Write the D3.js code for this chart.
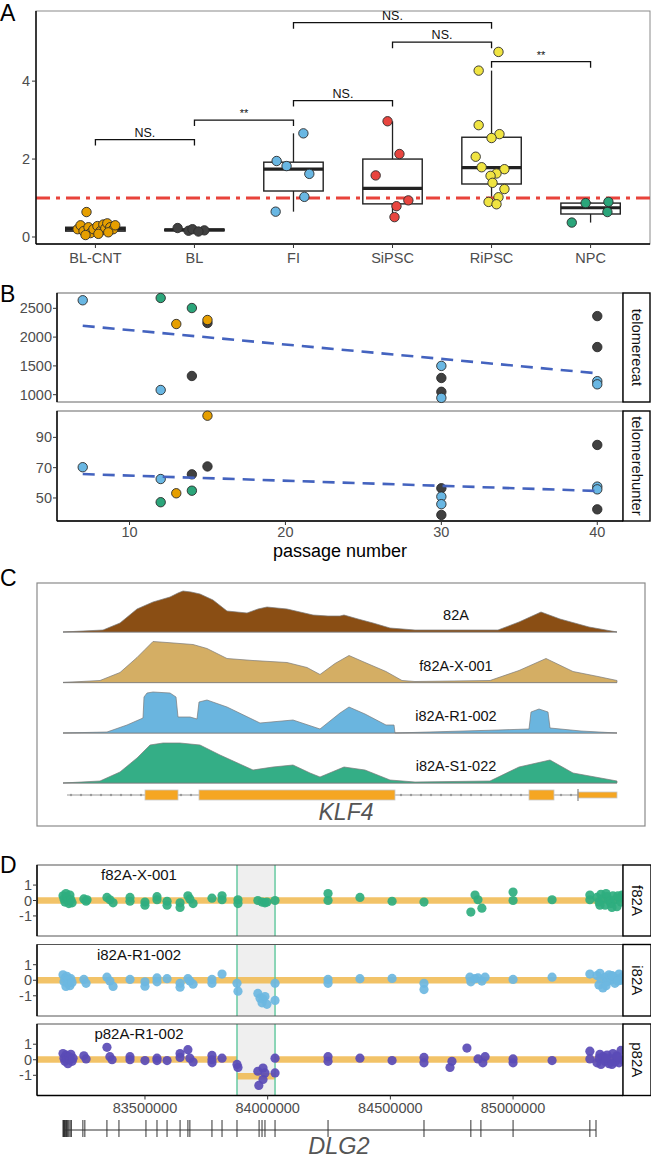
<!DOCTYPE html>
<html><head><meta charset="utf-8">
<script src="https://cdn.jsdelivr.net/npm/d3@7"></script>
<style>body{margin:0;background:#fff}svg{display:block}text{font-family:"Liberation Sans",Arial,sans-serif}</style>
</head><body><svg id="c" width="651" height="1159"></svg>
<script>
// ================= DATA =================
// Panel A
const groupsA = ["BL-CNT","BL","FI","SiPSC","RiPSC","NPC"];
const q1A  = [0.15,0.16,1.18,0.85,1.36,0.59];
const medA = [0.20,0.18,1.74,1.25,1.78,0.75];
const q3A  = [0.25,0.20,1.92,2.00,2.56,0.87];
const loA  = [0.08,0.14,0.65,0.51,0.84,0.37];
const hiA  = [0.35,0.22,2.66,2.97,4.27,0.90];
const ptsBLCNT = [[-0.09,0.64],[-0.18,0.2],[-0.15,0.3],[-0.12,0.15],[-0.07,0.25],[-0.05,0.1],[-0.02,0.2],[0.02,0.28],[0.05,0.15],[0.08,0.32],[0.1,0.22],[0.12,0.35],[0.15,0.25],[0.18,0.2],[0.2,0.3],[0.13,0.12],[0.03,0.08],[-0.1,0.05]];
const ptsBL = [[-0.17,0.23],[-0.06,0.16],[-0.02,0.2],[0.1,0.17],[0.04,0.14]];
const ptsFI = [[-0.17,1.95],[-0.07,1.82],[0.16,1.62],[0.11,1.03],[-0.18,0.65],[0.1,2.66]];
const ptsSiPSC = [[-0.05,2.97],[0.07,2.13],[-0.17,1.58],[0.16,0.94],[0.04,0.79],[0.02,0.51]];
const ptsRiPSC = [[0.07,4.75],[-0.13,4.27],[-0.13,2.87],[0.08,2.64],[0,2.54],[-0.16,2.06],[-0.1,1.79],[0.13,1.74],[0.05,1.63],[-0.01,1.57],[0.01,1.39],[0.13,1.23],[0.07,1.02],[-0.03,0.9],[0.05,0.84]];
const ptsNPC = [[-0.05,0.87],[0.18,0.9],[0.17,0.64],[-0.19,0.37]];
const bracketFrom  = ["BL-CNT","BL","FI","SiPSC","FI","RiPSC"];
const bracketTo    = ["BL","FI","SiPSC","RiPSC","RiPSC","NPC"];
const bracketLevel = [2.5,3.0,3.5,5.0,5.5,4.5];
const bracketLabel = ["NS.","**","NS.","NS.","NS.","**"];
const refLineA = 1;
const yTicksA = [0,2,4];

// Panel B
const passage = [7,12,12,13,14,14,15,15,30,30,30,30,40,40,40,40];
const sampleB = ["A","B","A","C","B","D","D","C","D","D","A","A","D","D","A","A"];
const telomerecat = [2640,2680,1082,2227,2505,1325,2245,2297,1290,1050,1500,945,2365,1827,1235,1180];
const telomerehunter = [70.3,47.2,62.5,53.1,54.8,65.6,70.8,104.3,56.4,38.8,50.9,45.9,85,42.5,57.5,55.7];
const facetsB = ["telomerecat","telomerehunter"];
const yTicksB1 = [1000,1500,2000,2500];
const yTicksB2 = [50,70,90];
const xTicksB = [10,20,30,40];

// Panel C (coverage: [position, coverage])
const tracksC = ["82A","f82A-X-001","i82A-R1-002","i82A-S1-022"];
const cov82A = [[0,0],[400,2],[570,9],[740,23],[900,30],[1070,35],[1150,39],[1200,41],[1280,40],[1370,38],[1500,32],[1640,21],[1740,20],[1840,19],[1950,23],[2040,25],[2140,24],[2240,23],[2370,20],[2500,17],[2650,16],[2770,16],[2810,17],[2950,13],[3100,9],[3270,4],[3520,2],[4350,2],[4560,10],[4780,20],[4970,13],[5260,5],[5540,0]];
const covF82A = [[0,0],[370,2],[570,10],[740,25],[820,33],[900,41],[1040,40],[1300,38],[1440,34],[1640,24],[1900,22],[2240,20],[2440,15],[2570,8],[2720,19],[2860,27],[3020,20],[3230,11],[3390,2],[3520,1],[4270,2],[4560,12],[4830,24],[5100,11],[5350,6],[5540,2]];
const covI82AR1 = [[0,0],[440,1],[640,8],[800,15],[810,36],[840,40],[900,41],[1070,40],[1130,36],[1150,16],[1270,16],[1340,14],[1360,31],[1440,33],[1640,26],[1970,10],[2300,13],[2570,4],[2770,20],[2860,26],[3020,19],[3230,8],[3310,8],[3320,0],[4350,3],[4660,4],[4680,21],[4760,24],[4850,21],[4870,5],[5180,2],[5540,0]];
const covI82AS1 = [[0,0],[370,2],[570,11],[740,25],[870,38],[1000,40],[1170,40],[1370,38],[1570,28],[1900,13],[2100,16],[2300,18],[2470,10],[2570,6],[2810,16],[3020,13],[3270,3],[3520,1],[4270,2],[4560,16],[4870,23],[5100,10],[5540,2]];
const klf4ExonStart = [820,1360,4660,5150];
const klf4ExonEnd   = [1150,3320,4910,5540];
const klf4ExonUTR   = [false,false,false,true];
const klf4Span = [40,5540];

// Panel D ([genomic position, log ratio])
const samplesD = ["f82A","i82A","p82A"];
const labelsD = ["f82A-X-001","i82A-R1-002","p82A-R1-002"];
const ptsF82A = [[83166000,0.3],[83170000,0.1],[83174000,-0.1],[83178000,0.45],[83182000,0.2],[83186000,0],[83190000,-0.2],[83194000,0.35],[83198000,0.05],[83203000,-0.15],[83251000,0.1],[83260000,-0.05],[83264000,0.05],[83345000,0.2],[83357000,0.05],[83370000,-0.15],[83439000,0.2],[83439000,-0.05],[83500000,-0.1],[83500000,-0.3],[83549000,0.25],[83549000,0.05],[83590000,-0.05],[83590000,-0.3],[83643000,-0.15],[83643000,-0.45],[83675000,0.3],[83683000,0.1],[83696000,-0.2],[83773000,0.15],[83814000,0.3],[83814000,0.05],[83879000,0.05],[83879000,-0.2],[83960000,0],[83977000,-0.1],[83989000,-0.15],[83997000,-0.1],[84030000,0],[84246000,0.45],[84246000,0],[84376000,0.2],[84507000,-0.05],[84637000,-0.1],[84828000,-0.75],[84845000,0.35],[84857000,0.05],[84873000,-0.5],[85000000,0.55],[85000000,0],[85159000,0.05],[85313000,0.35],[85313000,0.05],[85342000,0.2],[85350000,-0.1],[85358000,0.4],[85366000,0.1],[85375000,-0.3],[85383000,0.25],[85391000,0],[85399000,-0.2],[85407000,0.3],[85415000,0.05],[85423000,-0.4],[85432000,0.15],[85440000,-0.1],[85444000,0.35],[85354000,-0.3],[85379000,0.45],[85403000,-0.45],[85427000,0.3]];
const ptsI82A = [[83166000,0.35],[83170000,-0.1],[83174000,0.15],[83178000,-0.4],[83182000,0.25],[83186000,-0.2],[83190000,0.05],[83194000,-0.35],[83198000,0.1],[83203000,-0.15],[83251000,0.05],[83260000,-0.2],[83345000,0.2],[83357000,-0.05],[83370000,-0.4],[83439000,0.05],[83500000,-0.1],[83500000,-0.38],[83549000,0.15],[83549000,-0.1],[83590000,0.1],[83643000,-0.2],[83643000,-0.45],[83675000,0.1],[83683000,-0.05],[83696000,-0.25],[83773000,0.05],[83773000,-0.2],[83814000,0.4],[83875000,-0.2],[83879000,-0.7],[83960000,-0.85],[83969000,-1.15],[83977000,-1.45],[83981000,-1.2],[83989000,-1.05],[83997000,-1.55],[84030000,-0.2],[84030000,-1.3],[84246000,0.05],[84246000,-0.2],[84376000,0.1],[84507000,0.12],[84637000,-0.2],[84637000,-0.6],[84824000,0.2],[84828000,-0.1],[84845000,0.1],[84857000,0.15],[84873000,-0.05],[84886000,0.2],[85000000,0.05],[85159000,0.2],[85313000,0.4],[85342000,0.3],[85350000,-0.3],[85358000,0.1],[85366000,-0.5],[85375000,0.2],[85383000,-0.1],[85391000,0.35],[85399000,0],[85407000,0.25],[85415000,-0.2],[85423000,0.1],[85432000,0.4],[85440000,0],[85444000,0.2],[85354000,0.45],[85379000,-0.35],[85403000,0.3],[85427000,-0.05]];
const ptsP82A = [[83166000,0.4],[83170000,0.1],[83174000,-0.1],[83178000,0.3],[83182000,0.05],[83186000,-0.25],[83190000,0.2],[83194000,0],[83198000,0.35],[83203000,-0.1],[83207000,0.1],[83251000,0.25],[83260000,0.05],[83345000,0.8],[83357000,0.2],[83366000,0],[83439000,0.2],[83439000,0],[83500000,-0.05],[83549000,0.1],[83549000,-0.05],[83590000,-0.05],[83643000,0.4],[83643000,0.15],[83675000,0.65],[83683000,0.1],[83696000,-0.15],[83773000,0.28],[83773000,0],[83773000,-0.2],[83814000,0.1],[83875000,-0.3],[83879000,-0.5],[83960000,-0.74],[83981000,-0.53],[83989000,-0.85],[83981000,-1.27],[83964000,-1.65],[84030000,0.1],[84030000,-0.85],[84246000,0.2],[84246000,-0.1],[84376000,0.1],[84507000,-0.05],[84637000,0.15],[84637000,-0.2],[84743000,-0.5],[84751000,-0.1],[84812000,0.75],[84877000,-0.2],[84886000,0.2],[84857000,0.05],[85000000,0.05],[85000000,-0.2],[85159000,-0.05],[85313000,0.55],[85313000,0.05],[85342000,-0.2],[85350000,0.1],[85358000,-0.3],[85366000,0.2],[85375000,-0.1],[85383000,0.3],[85391000,-0.25],[85399000,0.05],[85407000,0.4],[85415000,-0.15],[85423000,0.25],[85432000,-0.2],[85440000,0.6],[85444000,0],[85354000,0.35],[85379000,0.1],[85403000,-0.3],[85427000,0.15]];
const segSample = ["f82A","i82A","p82A","p82A","p82A"];
const segStart  = [83060000,83060000,83060000,83875000,84030000];
const segEnd    = [85448000,85448000,83875000,84030000,85448000];
const segMean   = [0,0,0.02,-1.06,0.02];
const regionD = [83875000,84030000];
const xDomainD = [83060000,85448000];
const yTicksD = [-1,0,1];
const xTicksD = [83500000,84000000,84500000,85000000];
const dlg2Exons = [83166000,83168000,83170000,83172000,83174000,83177000,83180000,83183000,83186000,83190000,83195000,83200000,83247000,83255000,83345000,83394000,83504000,83549000,83590000,83643000,83675000,83683000,83773000,83814000,83875000,83965000,83977000,83989000,84030000,84246000,84637000,84828000,84869000,85000000,85313000,85338000];

// ================= DRAW =================
const svg = d3.select("#c");
const TG = "#4d4d4d";
const letter = (t,y)=>svg.append("text").attr("x",0).attr("y",y).attr("font-size",23).attr("fill","#000").text(t);

// ---------- Panel A ----------
{
  const L=36,R=650,T=11,Bt=244;
  const x = d3.scalePoint().domain(groupsA).range([L,R]).padding(0.6);
  const y = d3.scaleLinear().domain([-0.18,5.8]).range([Bt,T]);
  const bw = x.step()*0.6;
  const colA = {"BL-CNT":"#E69F00","BL":"#404040","FI":"#69B7E3","SiPSC":"#E8453F","RiPSC":"#F0E442","NPC":"#2BA57A"};
  const g = svg.append("g");
  g.append("rect").attr("x",L).attr("y",T).attr("width",R-L).attr("height",Bt-T).attr("fill","none").attr("stroke","#8a8a8a").attr("stroke-width",1);
  groupsA.forEach((k,i)=>{
    const cx = x(k);
    g.append("line").attr("x1",cx).attr("x2",cx).attr("y1",y(hiA[i])).attr("y2",y(q3A[i])).attr("stroke","#222").attr("stroke-width",1.3);
    g.append("line").attr("x1",cx).attr("x2",cx).attr("y1",y(q1A[i])).attr("y2",y(loA[i])).attr("stroke","#222").attr("stroke-width",1.3);
    g.append("rect").attr("x",cx-bw/2).attr("width",bw).attr("y",y(q3A[i])).attr("height",y(q1A[i])-y(q3A[i])).attr("fill","#fff").attr("stroke","#222").attr("stroke-width",1.4);
    g.append("line").attr("x1",cx-bw/2).attr("x2",cx+bw/2).attr("y1",y(medA[i])).attr("y2",y(medA[i])).attr("stroke","#222").attr("stroke-width",3.2);
  });
  g.append("line").attr("x1",L).attr("x2",R).attr("y1",y(refLineA)).attr("y2",y(refLineA)).attr("stroke","#E8433B").attr("stroke-width",3).attr("stroke-dasharray","14,6,4,6");
  const ptsA = [ptsBLCNT,ptsBL,ptsFI,ptsSiPSC,ptsRiPSC,ptsNPC];
  groupsA.forEach((k,i)=>{
    g.selectAll(null).data(ptsA[i]).join("circle")
      .attr("cx",d=>x(k)+d[0]*x.step()).attr("cy",d=>y(d[1])).attr("r",4.7)
      .attr("fill",colA[k]).attr("stroke","#2b2b2b").attr("stroke-width",0.9);
  });
  bracketFrom.forEach((f,i)=>{
    const x1=x(f), x2=x(bracketTo[i]), yy=y(bracketLevel[i]);
    g.append("path").attr("d",`M${x1},${yy+6}V${yy}H${x2}V${yy+6}`).attr("fill","none").attr("stroke","#111").attr("stroke-width",1.3);
    g.append("text").attr("x",(x1+x2)/2).attr("y",yy-3).attr("text-anchor","middle").attr("font-size",bracketLabel[i]==="**"?11:12.5).attr("fill","#111").text(bracketLabel[i]);
  });
  g.append("line").attr("x1",L).attr("x2",L).attr("y1",T).attr("y2",Bt).attr("stroke","#000").attr("stroke-width",1.4);
  g.append("line").attr("x1",L).attr("x2",R).attr("y1",Bt).attr("y2",Bt).attr("stroke","#000").attr("stroke-width",1.4);
  yTicksA.forEach(t=>{
    g.append("line").attr("x1",L-4).attr("x2",L).attr("y1",y(t)).attr("y2",y(t)).attr("stroke","#333");
    g.append("text").attr("x",L-6).attr("y",y(t)+5).attr("text-anchor","end").attr("font-size",14.5).attr("fill",TG).text(t);
  });
  groupsA.forEach(k=>{
    g.append("line").attr("x1",x(k)).attr("x2",x(k)).attr("y1",Bt).attr("y2",Bt+4).attr("stroke","#333");
    g.append("text").attr("x",x(k)).attr("y",Bt+19).attr("text-anchor","middle").attr("font-size",14.5).attr("fill",TG).text(k);
  });
  letter("A",21);
}

// ---------- Panel B ----------
{
  const L=57,R=623,SW=27;
  const panels=[[293,402],[411,521]];
  const x = d3.scaleLinear().domain([5.35,41.65]).range([L,R]);
  const ys = [d3.scaleLinear().domain([873,2766]).range([panels[0][1],panels[0][0]]),
              d3.scaleLinear().domain([34.8,107.4]).range([panels[1][1],panels[1][0]])];
  const vals=[telomerecat,telomerehunter];
  const ticks=[yTicksB1,yTicksB2];
  const colB={A:"#69B7E3",B:"#2BA57A",C:"#E69F00",D:"#404040"};
  panels.forEach((p,fi)=>{
    const g=svg.append("g");
    const y=ys[fi];
    g.append("rect").attr("x",L).attr("y",p[0]).attr("width",R-L).attr("height",p[1]-p[0]).attr("fill","none").attr("stroke","#666").attr("stroke-width",1);
    g.append("line").attr("x1",L).attr("x2",L).attr("y1",p[0]).attr("y2",p[1]).attr("stroke","#000").attr("stroke-width",1.4);
    if(fi===1) g.append("line").attr("x1",L).attr("x2",R).attr("y1",p[1]).attr("y2",p[1]).attr("stroke","#000").attr("stroke-width",1.4);
    const xs=passage, yv=vals[fi];
    const mx=d3.mean(xs), my=d3.mean(yv);
    const b=d3.sum(xs,(v,i)=>(v-mx)*(yv[i]-my))/d3.sum(xs,v=>(v-mx)**2);
    const a=my-b*mx;
    const x0=d3.min(xs), x1=d3.max(xs);
    g.selectAll(null).data(d3.range(xs.length)).join("circle")
      .attr("cx",i=>x(xs[i])).attr("cy",i=>y(yv[i])).attr("r",4.7)
      .attr("fill",i=>colB[sampleB[i]]).attr("stroke","#2b2b2b").attr("stroke-width",0.9);
    g.append("line").attr("x1",x(x0)).attr("x2",x(x1)).attr("y1",y(a+b*x0)).attr("y2",y(a+b*x1))
      .attr("stroke","#4463BF").attr("stroke-width",2.6).attr("stroke-dasharray","12,8");
    ticks[fi].forEach(t=>{
      g.append("line").attr("x1",L-4).attr("x2",L).attr("y1",y(t)).attr("y2",y(t)).attr("stroke","#333");
      g.append("text").attr("x",L-5).attr("y",y(t)+5).attr("text-anchor","end").attr("font-size",14.5).attr("fill",TG).text(t);
    });
    g.append("rect").attr("x",R).attr("y",p[0]).attr("width",SW).attr("height",p[1]-p[0]).attr("fill","#fff").attr("stroke","#000").attr("stroke-width",1.4);
    g.append("text").attr("transform",`translate(${R+SW/2-5},${(p[0]+p[1])/2}) rotate(90)`).attr("text-anchor","middle").attr("font-size",14.8).attr("fill","#111").text(facetsB[fi]);
  });
  xTicksB.forEach(t=>{
    svg.append("line").attr("x1",x(t)).attr("x2",x(t)).attr("y1",521).attr("y2",525).attr("stroke","#333");
    svg.append("text").attr("x",x(t)).attr("y",537).attr("text-anchor","middle").attr("font-size",14.5).attr("fill",TG).text(t);
  });
  svg.append("text").attr("x",340).attr("y",557).attr("text-anchor","middle").attr("font-size",18).attr("fill","#000").text("passage number");
  letter("B",302);
}

// ---------- Panel C ----------
{
  const g=svg.append("g");
  g.append("rect").attr("x",37).attr("y",583).attr("width",608).attr("height",243).attr("fill","#fff").attr("stroke","#8a8a8a").attr("stroke-width",1.2);
  const x=d3.scaleLinear().domain([0,5540]).range([63,617]);
  const h=d3.scaleLinear().domain([0,41]).range([0,41]);
  const baselines=[632,682.5,733,783];
  const covs=[cov82A,covF82A,covI82AR1,covI82AS1];
  const colsC=["#8A4E14","#D4AE64","#6AB5DF","#34AE86"];
  tracksC.forEach((name,i)=>{
    const b=baselines[i];
    const area=d3.area().x(d=>x(d[0])).y0(b).y1(d=>b-h(d[1]));
    g.append("line").attr("x1",x(0)).attr("x2",x(5540)).attr("y1",b).attr("y2",b).attr("stroke","#b5b5b5").attr("stroke-width",1.5);
    g.append("path").attr("d",area(covs[i])).attr("fill",colsC[i]).attr("stroke","#7a7a7a").attr("stroke-width",0.7);
    g.append("text").attr("x",456).attr("y",b-12).attr("text-anchor","middle").attr("font-size",14.5).attr("fill","#111").text(name);
  });
  const gy=795;
  g.append("line").attr("x1",x(klf4Span[0])).attr("x2",x(klf4Span[1])).attr("y1",gy).attr("y2",gy).attr("stroke","#9a9a9a").attr("stroke-width",1);
  d3.range(x(klf4Span[0])+4,x(klf4Span[1]),10).forEach(px=>{
    g.append("circle").attr("cx",px).attr("cy",gy).attr("r",1.2).attr("fill","#9a9a9a");
  });
  klf4ExonStart.forEach((s,i)=>{
    const hh = klf4ExonUTR[i]?6:10;
    g.append("rect").attr("x",x(s)).attr("width",x(klf4ExonEnd[i])-x(s)).attr("y",gy-hh/2).attr("height",hh)
      .attr("fill","#F5A623").attr("stroke","#c8c8c8").attr("stroke-width",0.8);
    if(klf4ExonUTR[i]) g.append("line").attr("x1",x(s)).attr("x2",x(s)).attr("y1",gy-6).attr("y2",gy+6).attr("stroke","#888").attr("stroke-width",1.2);
  });
  g.append("text").attr("x",346).attr("y",820).attr("text-anchor","middle").attr("font-size",23).attr("font-style","italic").attr("fill","#555").text("KLF4");
  letter("C",586);
}

// ---------- Panel D ----------
{
  const L=37,R=623,SW=28;
  const facets=[[865,936],[944.5,1016],[1024,1095.5]];
  const x=d3.scaleLinear().domain(xDomainD).range([L,R]);
  const pts=[ptsF82A,ptsI82A,ptsP82A];
  const colD=["#2FAE7F","#6CB7E1","#5A4BB6"];
  const defs=svg.append("defs");
  samplesD.forEach((s,fi)=>{
    const p=facets[fi];
    const y=d3.scaleLinear().domain([-2.3,2.3]).range([p[1],p[0]]);
    defs.append("clipPath").attr("id","clipD"+fi).append("rect").attr("x",L).attr("y",p[0]).attr("width",R-L).attr("height",p[1]-p[0]);
    const g=svg.append("g");
    const gc=g.append("g").attr("clip-path",`url(#clipD${fi})`);
    gc.append("rect").attr("x",x(regionD[0])).attr("width",x(regionD[1])-x(regionD[0])).attr("y",p[0]).attr("height",p[1]-p[0])
      .attr("fill","#efefef");
    segSample.forEach((ss,j)=>{
      if(ss!==s) return;
      gc.append("line").attr("x1",x(segStart[j])).attr("x2",x(segEnd[j])).attr("y1",y(segMean[j])).attr("y2",y(segMean[j]))
        .attr("stroke","#F0B84E").attr("stroke-opacity",0.85).attr("stroke-width",6.5);
    });
    [0,1].forEach(k=>gc.append("line").attr("x1",x(regionD[k])).attr("x2",x(regionD[k])).attr("y1",p[0]).attr("y2",p[1]).attr("stroke","#5DC79C").attr("stroke-width",1.4));
    gc.selectAll(null).data(pts[fi]).join("circle")
      .attr("cx",d=>x(d[0])).attr("cy",d=>y(d[1])).attr("r",4.6).attr("fill",colD[fi]).attr("fill-opacity",0.92);
    g.append("rect").attr("x",L).attr("y",p[0]).attr("width",R-L).attr("height",p[1]-p[0]).attr("fill","none").attr("stroke","#555").attr("stroke-width",1);
    g.append("line").attr("x1",L).attr("x2",L).attr("y1",p[0]).attr("y2",p[1]).attr("stroke","#000").attr("stroke-width",1.4);
    if(fi===2) g.append("line").attr("x1",L).attr("x2",R).attr("y1",p[1]).attr("y2",p[1]).attr("stroke","#000").attr("stroke-width",1.4);
    yTicksD.forEach(t=>{
      g.append("line").attr("x1",L-4).attr("x2",L).attr("y1",y(t)).attr("y2",y(t)).attr("stroke","#333");
      g.append("text").attr("x",L-5).attr("y",y(t)+5).attr("text-anchor","end").attr("font-size",14.5).attr("fill",TG).text(t);
    });
    g.append("text").attr("x",139).attr("y",p[0]+15).attr("text-anchor","middle").attr("font-size",15).attr("fill","#111").text(labelsD[fi]);
    g.append("rect").attr("x",R).attr("y",p[0]).attr("width",SW).attr("height",p[1]-p[0]).attr("fill","#fff").attr("stroke","#000").attr("stroke-width",1.4);
    g.append("text").attr("transform",`translate(${R+SW/2-5},${(p[0]+p[1])/2}) rotate(90)`).attr("text-anchor","middle").attr("font-size",15).attr("fill","#111").text(s);
  });
  xTicksD.forEach(t=>{
    svg.append("line").attr("x1",x(t)).attr("x2",x(t)).attr("y1",1095.5).attr("y2",1099.5).attr("stroke","#333");
    svg.append("text").attr("x",x(t)).attr("y",1113).attr("text-anchor","middle").attr("font-size",14.5).attr("fill",TG).text(t);
  });
  const gy=1130;
  svg.append("line").attr("x1",x(d3.min(dlg2Exons))).attr("x2",x(d3.max(dlg2Exons))).attr("y1",gy).attr("y2",gy).attr("stroke","#333").attr("stroke-width",1);
  svg.selectAll(null).data(dlg2Exons).join("line").attr("x1",d=>x(d)).attr("x2",d=>x(d)).attr("y1",gy-10).attr("y2",gy+7).attr("stroke","#333").attr("stroke-width",1);
  svg.append("text").attr("x",339).attr("y",1154).attr("text-anchor","middle").attr("font-size",23.5).attr("font-style","italic").attr("fill","#555").text("DLG2");
  letter("D",873);
}
</script></body></html>
